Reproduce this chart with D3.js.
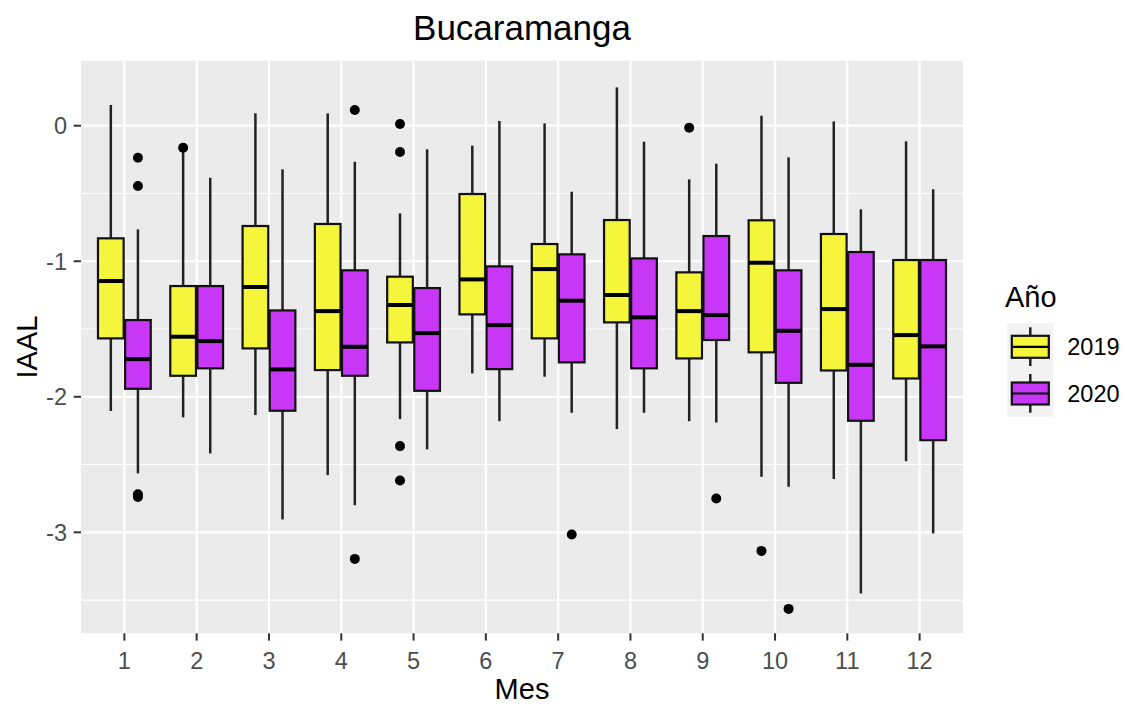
<!DOCTYPE html>
<html>
<head>
<meta charset="utf-8">
<script src="https://cdn.jsdelivr.net/npm/d3@7"></script>
<style>
  body { margin: 0; background: #fff; }
  svg { display: block; }
</style>
</head>
<body>
<script>
// months on the x axis, one pair of boxes per month
const months = [1, 2, 3, 4, 5, 6, 7, 8, 9, 10, 11, 12];
const years = ["2019", "2020"];
const yearColors = ["#F5F53B", "#C837F5"];
const yTicks = [0, -1, -2, -3];
const yMinor = [-0.5, -1.5, -2.5, -3.5];

// [lower whisker, Q1, median, Q3, upper whisker] per month
const box2019 = [
  [-2.105, -1.569, -1.146, -0.831, 0.153],
  [-2.152, -1.845, -1.557, -1.183, -0.19],
  [-2.135, -1.643, -1.19, -0.74, 0.091],
  [-2.578, -1.803, -1.368, -0.725, 0.091],
  [-2.165, -1.599, -1.323, -1.114, -0.647],
  [-1.828, -1.392, -1.134, -0.504, -0.147],
  [-1.852, -1.569, -1.058, -0.873, 0.017],
  [-2.238, -1.451, -1.249, -0.696, 0.283],
  [-2.18, -1.717, -1.368, -1.082, -0.396],
  [-2.59, -1.672, -1.011, -0.698, 0.074],
  [-2.607, -1.806, -1.353, -0.799, 0.032],
  [-2.475, -1.865, -1.545, -0.991, -0.115]
];
const box2020 = [
  [-2.565, -1.941, -1.722, -1.434, -0.765],
  [-2.418, -1.79, -1.589, -1.183, -0.384],
  [-2.905, -2.103, -1.798, -1.363, -0.322],
  [-2.8, -1.845, -1.631, -1.067, -0.266],
  [-2.388, -1.956, -1.53, -1.198, -0.174],
  [-2.18, -1.796, -1.471, -1.038, 0.035],
  [-2.118, -1.746, -1.291, -0.949, -0.487],
  [-2.118, -1.79, -1.414, -0.979, -0.118],
  [-2.19, -1.581, -1.397, -0.814, -0.28],
  [-2.664, -1.897, -1.513, -1.067, -0.233],
  [-3.451, -2.177, -1.764, -0.932, -0.617],
  [-3.008, -2.32, -1.628, -0.991, -0.469]
];
// outliers as [month, value]
const out2019 = [[2, -0.162], [5, 0.012], [5, -0.194], [5, -2.364], [5, -2.617], [9, -0.015], [10, -3.137]];
const out2020 = [[1, -0.236], [1, -0.445], [1, -2.72], [1, -2.74], [4, 0.116], [4, -3.196], [7, -3.016], [9, -2.75], [10, -3.565]];

const width = 1125, height = 704;
const panel = {left: 81, right: 963, top: 60.7, bottom: 633.3};
const font = "'Liberation Sans', Arial, sans-serif";

const svg = d3.select("body").append("svg")
    .attr("width", width)
    .attr("height", height)
    .attr("font-family", font);

const x = d3.scalePoint().domain(months).range([panel.left, panel.right]).padding(0.6);
const y = d3.scaleLinear().domain([-3.745, 0.4796]).range([panel.bottom, panel.top]);
const step = x.step();
const dodge = step * 0.1875;
const boxW = step * 0.355;

// panel background and grid
svg.append("rect")
    .attr("x", panel.left).attr("y", panel.top)
    .attr("width", panel.right - panel.left).attr("height", panel.bottom - panel.top)
    .attr("fill", "#EBEBEB");

svg.append("g").selectAll("line").data(yMinor).join("line")
    .attr("x1", panel.left).attr("x2", panel.right)
    .attr("y1", d => y(d)).attr("y2", d => y(d))
    .attr("stroke", "#fff").attr("stroke-width", 1.1);

svg.append("g").selectAll("line").data(yTicks).join("line")
    .attr("x1", panel.left).attr("x2", panel.right)
    .attr("y1", d => y(d)).attr("y2", d => y(d))
    .attr("stroke", "#fff").attr("stroke-width", 2.2);

svg.append("g").selectAll("line").data(months).join("line")
    .attr("x1", d => x(d)).attr("x2", d => x(d))
    .attr("y1", panel.top).attr("y2", panel.bottom)
    .attr("stroke", "#fff").attr("stroke-width", 2.2);

// boxes
const series = [box2019, box2020];
const outliers = [out2019, out2020];

series.forEach((stats, si) => {
  const off = si === 0 ? -dodge : dodge;
  const g = svg.append("g");
  const cell = g.selectAll("g").data(stats).join("g")
      .attr("transform", (d, i) => `translate(${x(months[i]) + off},0)`);

  cell.append("line")
      .attr("y1", d => y(d[0])).attr("y2", d => y(d[1]))
      .attr("stroke", "#222").attr("stroke-width", 2.5);
  cell.append("line")
      .attr("y1", d => y(d[3])).attr("y2", d => y(d[4]))
      .attr("stroke", "#222").attr("stroke-width", 2.5);
  cell.append("rect")
      .attr("x", -boxW / 2).attr("width", boxW)
      .attr("y", d => y(d[3])).attr("height", d => y(d[1]) - y(d[3]))
      .attr("fill", yearColors[si])
      .attr("stroke", "#111").attr("stroke-width", 2.2);
  cell.append("line")
      .attr("x1", -boxW / 2).attr("x2", boxW / 2)
      .attr("y1", d => y(d[2])).attr("y2", d => y(d[2]))
      .attr("stroke", "#000").attr("stroke-width", 4);

  g.append("g").selectAll("circle").data(outliers[si]).join("circle")
      .attr("cx", d => x(d[0]) + off)
      .attr("cy", d => y(d[1]))
      .attr("r", 5)
      .attr("fill", "#000");
});

// axes ticks and labels
const axisCol = "#4D4D4D";
svg.append("g").selectAll("line").data(yTicks).join("line")
    .attr("x1", panel.left - 7.3).attr("x2", panel.left)
    .attr("y1", d => y(d)).attr("y2", d => y(d))
    .attr("stroke", "#333").attr("stroke-width", 2);
svg.append("g").selectAll("text").data(yTicks).join("text")
    .attr("x", panel.left - 14)
    .attr("y", d => y(d))
    .attr("dy", "0.36em")
    .attr("text-anchor", "end")
    .attr("font-size", 23.5)
    .attr("fill", axisCol)
    .text(d => d === 0 ? "0" : String(d));

svg.append("g").selectAll("line").data(months).join("line")
    .attr("x1", d => x(d)).attr("x2", d => x(d))
    .attr("y1", panel.bottom).attr("y2", panel.bottom + 7.3)
    .attr("stroke", "#333").attr("stroke-width", 2);
svg.append("g").selectAll("text").data(months).join("text")
    .attr("x", d => x(d))
    .attr("y", 669)
    .attr("text-anchor", "middle")
    .attr("font-size", 23.5)
    .attr("fill", axisCol)
    .text(d => d);

// titles
svg.append("text")
    .attr("x", (panel.left + panel.right) / 2).attr("y", 39.5)
    .attr("text-anchor", "middle")
    .attr("font-size", 35)
    .attr("fill", "#000")
    .text("Bucaramanga");

svg.append("text")
    .attr("x", (panel.left + panel.right) / 2).attr("y", 699)
    .attr("text-anchor", "middle")
    .attr("font-size", 29)
    .attr("fill", "#000")
    .text("Mes");

svg.append("text")
    .attr("transform", `translate(37,${(panel.top + panel.bottom) / 2}) rotate(-90)`)
    .attr("text-anchor", "middle")
    .attr("font-size", 29)
    .attr("fill", "#000")
    .text("IAAL");

// legend
const legend = svg.append("g");
legend.append("text")
    .attr("x", 1005).attr("y", 307)
    .attr("font-size", 29)
    .attr("fill", "#000")
    .text("Año");

const keySize = 46.7;
const key = legend.selectAll("g.key").data(years).join("g")
    .attr("class", "key")
    .attr("transform", (d, i) => `translate(1007.3,${323.3 + i * keySize})`);
key.append("rect")
    .attr("width", 46).attr("height", keySize)
    .attr("fill", "#F2F2F2");
key.append("line")
    .attr("x1", 23).attr("x2", 23)
    .attr("y1", 4).attr("y2", keySize - 4)
    .attr("stroke", "#222").attr("stroke-width", 2.5);
key.append("rect")
    .attr("x", 4.5).attr("width", 37)
    .attr("y", 12.5).attr("height", 22)
    .attr("fill", (d, i) => yearColors[i])
    .attr("stroke", "#111").attr("stroke-width", 2.2);
key.append("line")
    .attr("x1", 4.5).attr("x2", 41.5)
    .attr("y1", 23.5).attr("y2", 23.5)
    .attr("stroke", "#000").attr("stroke-width", 2.2);
key.append("text")
    .attr("x", 60).attr("y", 23.5)
    .attr("dy", "0.36em")
    .attr("font-size", 23.5)
    .attr("fill", "#000")
    .text(d => d);
</script>
</body>
</html>
